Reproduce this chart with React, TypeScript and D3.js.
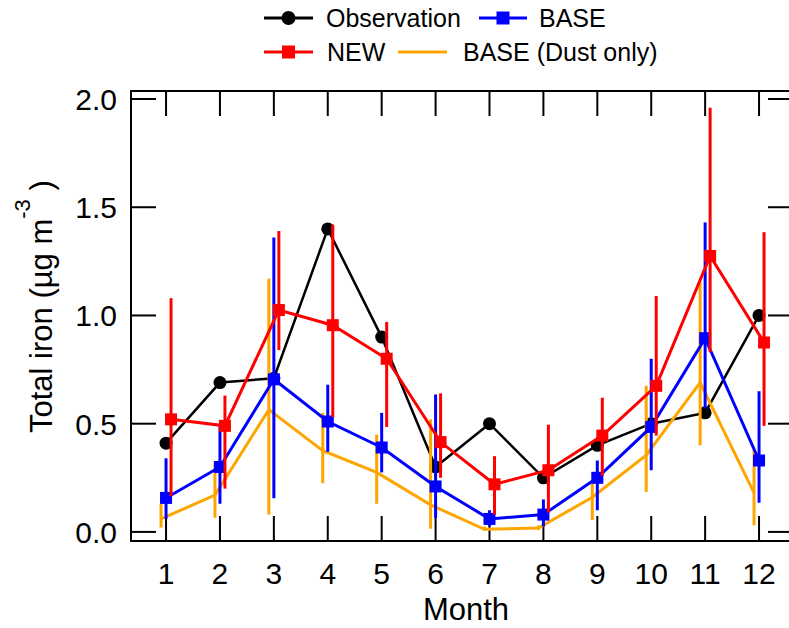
import { useEffect, useRef } from "react";
import * as d3 from "d3";

const months = [1, 2, 3, 4, 5, 6, 7, 8, 9, 10, 11, 12];
const yTicks = [0, 0.5, 1.0, 1.5, 2.0];

const observation = [0.41, 0.69, 0.71, 1.4, 0.9, 0.3, 0.5, 0.25, 0.4, 0.5, 0.55, 1.0];

const newValues = [0.52, 0.49, 1.025, 0.955, 0.8, 0.415, 0.22, 0.285, 0.445, 0.675, 1.275, 0.875];
const newHigh = [1.08, 0.63, 1.39, 1.42, 0.97, 0.64, 0.35, 0.495, 0.62, 1.09, 1.96, 1.385];
const newLow = [0.165, 0.2, 0.84, 0.53, 0.485, 0.25, 0.08, 0.09, 0.26, 0.445, 0.83, 0.49];

const baseValues = [0.157, 0.3, 0.705, 0.51, 0.39, 0.21, 0.06, 0.08, 0.25, 0.485, 0.895, 0.33];
const baseHigh = [0.34, 0.5, 1.36, 0.68, 0.55, 0.635, 0.1, 0.15, 0.33, 0.8, 1.43, 0.65];
const baseLow = [0.06, 0.13, 0.155, 0.37, 0.275, 0.065, 0.025, 0.025, 0.1, 0.285, 0.57, 0.135];

const dustValues = [0.06, 0.17, 0.565, 0.375, 0.275, 0.125, 0.012, 0.018, 0.16, 0.355, 0.69, 0.18];
const dustHigh = [0.13, 0.32, 1.17, 0.55, 0.45, 0.52, 0.025, 0.03, 0.23, 0.675, 1.155, 0.38];
const dustLow = [0.02, 0.065, 0.08, 0.225, 0.13, 0.015, 0.005, 0.008, 0.055, 0.185, 0.4, 0.03];

const FONT = "'Liberation Sans', Arial, sans-serif";

export default function App() {
  const svgRef = useRef<SVGSVGElement>(null);

  useEffect(() => {
    if (!svgRef.current) return;
    const svg = d3.select(svgRef.current);
    svg.selectAll("*").remove();

    const frame = { left: 131, right: 793, top: 91, bottom: 541 };

    const x = d3.scaleLinear().domain([0.35, 12.63]).range([frame.left, frame.right]);
    const y = d3.scaleLinear().domain([-0.042, 2.037]).range([frame.bottom, frame.top]);

    // frame
    svg.append("path")
      .attr("d", `M${frame.right},${frame.top}H${frame.left}V${frame.bottom}H${frame.right}`)
      .attr("fill", "none")
      .attr("stroke", "#000")
      .attr("stroke-width", 2);

    const tickLen = 25;
    // month ticks (top and bottom, inward)
    months.forEach((m) => {
      svg.append("line")
        .attr("x1", x(m)).attr("x2", x(m))
        .attr("y1", frame.bottom).attr("y2", frame.bottom - tickLen)
        .attr("stroke", "#000").attr("stroke-width", 2);
      svg.append("line")
        .attr("x1", x(m)).attr("x2", x(m))
        .attr("y1", frame.top).attr("y2", frame.top + tickLen)
        .attr("stroke", "#000").attr("stroke-width", 2);
      svg.append("text")
        .attr("x", x(m))
        .attr("y", 584)
        .attr("text-anchor", "middle")
        .attr("font-family", FONT)
        .attr("font-size", 30)
        .text(m);
    });

    // y ticks (left and right, inward)
    yTicks.forEach((t) => {
      svg.append("line")
        .attr("x1", frame.left).attr("x2", frame.left + tickLen)
        .attr("y1", y(t)).attr("y2", y(t))
        .attr("stroke", "#000").attr("stroke-width", 2);
      svg.append("line")
        .attr("x1", frame.right).attr("x2", frame.right - tickLen)
        .attr("y1", y(t)).attr("y2", y(t))
        .attr("stroke", "#000").attr("stroke-width", 2);
      svg.append("text")
        .attr("x", 117)
        .attr("y", y(t) + 11)
        .attr("text-anchor", "end")
        .attr("font-family", FONT)
        .attr("font-size", 30)
        .text(t.toFixed(1));
    });

    // axis titles
    svg.append("text")
      .attr("x", 466)
      .attr("y", 620)
      .attr("text-anchor", "middle")
      .attr("font-family", FONT)
      .attr("font-size", 31)
      .text("Month");

    const yTitle = svg.append("text")
      .attr("transform", "translate(52,433) rotate(-90)")
      .attr("font-family", FONT)
      .attr("font-size", 31);
    yTitle.append("tspan").text("Total iron (µg m");
    yTitle.append("tspan").attr("font-size", 22).attr("dy", -22).text("-3");
    yTitle.append("tspan").attr("dy", 22).text(" )");

    const line = (vals: number[], dx: number) =>
      d3.line<number>()
        .x((_, i) => x(months[i]) + dx)
        .y((v) => y(v))(vals);

    const errorBars = (lo: number[], hi: number[], dx: number, color: string) => {
      months.forEach((m, i) => {
        svg.append("line")
          .attr("x1", x(m) + dx).attr("x2", x(m) + dx)
          .attr("y1", y(lo[i])).attr("y2", y(hi[i]))
          .attr("stroke", color).attr("stroke-width", 3);
      });
    };

    // Observation
    svg.append("path")
      .attr("d", line(observation, 0))
      .attr("fill", "none").attr("stroke", "#000").attr("stroke-width", 2.5);
    observation.forEach((v, i) => {
      svg.append("circle").attr("cx", x(months[i])).attr("cy", y(v)).attr("r", 6.5).attr("fill", "#000");
    });

    // BASE (Dust only)
    errorBars(dustLow, dustHigh, -5, "#ffa500");
    svg.append("path")
      .attr("d", line(dustValues, -5))
      .attr("fill", "none").attr("stroke", "#ffa500").attr("stroke-width", 3);

    // BASE
    errorBars(baseLow, baseHigh, 0, "#0000ff");
    svg.append("path")
      .attr("d", line(baseValues, 0))
      .attr("fill", "none").attr("stroke", "#0000ff").attr("stroke-width", 3);
    baseValues.forEach((v, i) => {
      svg.append("rect")
        .attr("x", x(months[i]) - 6).attr("y", y(v) - 6)
        .attr("width", 12).attr("height", 12).attr("fill", "#0000ff");
    });

    // NEW
    errorBars(newLow, newHigh, 5, "#ff0000");
    svg.append("path")
      .attr("d", line(newValues, 5))
      .attr("fill", "none").attr("stroke", "#ff0000").attr("stroke-width", 3);
    newValues.forEach((v, i) => {
      svg.append("rect")
        .attr("x", x(months[i]) + 5 - 6).attr("y", y(v) - 6)
        .attr("width", 12).attr("height", 12).attr("fill", "#ff0000");
    });

    // Legend
    const legend = [
      { label: "Observation", color: "#000", marker: "circle", x1: 264, x2: 313, ly: 18, tx: 326 },
      { label: "BASE", color: "#0000ff", marker: "square", x1: 479, x2: 527, ly: 18, tx: 539 },
      { label: "NEW", color: "#ff0000", marker: "square", x1: 264, x2: 313, ly: 52, tx: 327 },
      { label: "BASE (Dust only)", color: "#ffa500", marker: "none", x1: 398, x2: 447, ly: 52, tx: 463 },
    ];
    legend.forEach((d) => {
      svg.append("line")
        .attr("x1", d.x1).attr("x2", d.x2)
        .attr("y1", d.ly).attr("y2", d.ly)
        .attr("stroke", d.color).attr("stroke-width", 3);
      const cx = (d.x1 + d.x2) / 2;
      if (d.marker === "circle") {
        svg.append("circle").attr("cx", cx).attr("cy", d.ly).attr("r", 7).attr("fill", d.color);
      } else if (d.marker === "square") {
        svg.append("rect")
          .attr("x", cx - 6.5).attr("y", d.ly - 6.5)
          .attr("width", 13).attr("height", 13).attr("fill", d.color);
      }
      svg.append("text")
        .attr("x", d.tx)
        .attr("y", d.ly + 9)
        .attr("font-family", FONT)
        .attr("font-size", 25)
        .text(d.label);
    });
  }, []);

  return (
    <svg
      ref={svgRef}
      width={789}
      height={628}
      style={{ position: "absolute", left: 0, top: 0, background: "#fff" }}
    />
  );
}
